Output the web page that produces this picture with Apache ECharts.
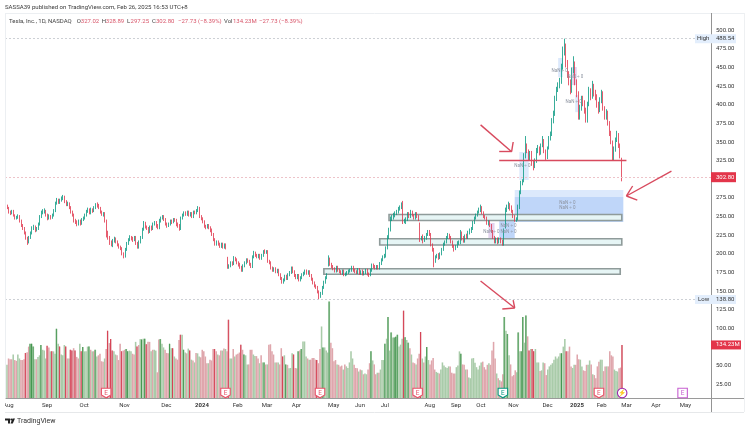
<!DOCTYPE html>
<html><head><meta charset="utf-8">
<style>html,body{margin:0;padding:0;background:#fff}#c{width:749px;height:430px}</style>
<script src="https://cdn.jsdelivr.net/npm/echarts@6/dist/echarts.min.js"></script>
</head><body><div id="c"></div>
<script>
const closes=[265,262,256,255,258,252,248,249,251,244,
238,234,228,221,216,222,228,235,236,232,
234,240,250,255,257,258,252,248,251,249,
252,258,268,272,269,272,274,276,270,267,
268,262,256,252,244,243,240,244,241,246,
248,252,257,260,255,260,258,262,266,265,
262,256,253,254,245,228,222,216,212,218,
220,216,212,209,207,200,197,206,214,219,
222,220,219,222,214,209,216,222,233,241,
236,234,230,236,234,240,242,237,236,244,
248,250,246,240,238,240,244,243,246,245,
240,238,234,248,252,255,253,256,252,254,
250,256,255,258,261,250,247,243,237,236,
238,235,232,226,219,213,216,213,210,213,
209,212,208,183,184,188,187,194,192,188,
186,182,178,184,188,192,190,186,183,196,
201,198,196,198,194,198,203,202,203,190,
188,181,178,180,176,178,172,167,162,165,
170,167,172,175,181,176,171,168,171,165,
168,172,174,177,174,176,171,166,161,157,
155,149,143,147,155,162,168,172,194,186,
183,180,177,182,178,176,174,177,172,173,
175,177,178,182,178,176,175,179,174,177,
173,175,178,173,172,178,185,183,181,183,
181,187,192,196,197,208,222,232,246,248,
251,254,256,260,262,265,243,245,246,253,
250,256,252,248,254,250,246,220,222,218,
221,226,230,226,212,205,190,196,198,195,
200,206,213,216,222,225,222,216,210,207,
210,215,215,228,220,217,224,222,228,230,
234,242,248,252,256,258,262,255,250,248,
241,243,238,230,222,217,219,216,220,217,
213,230,258,262,265,262,257,250,245,247,
262,282,295,296,330,345,338,328,335,322,
318,325,338,342,336,345,352,338,330,342,
355,360,378,388,408,420,425,432,450,470,
479,455,440,430,420,445,455,430,415,385,
395,408,402,392,380,400,418,410,425,415,
410,400,392,405,415,395,385,390,375,362,
350,328,340,352,358,345,330.53,302.8];
const opens=[262,265,262,256,255,258,252,248,249,251,
244,238,234,228,221,216,222,228,235,236,
232,234,240,250,255,257,258,252,248,251,
249,252,258,268,272,269,272,274,276,270,
267,268,262,256,252,244,243,240,244,241,
246,248,252,257,260,255,260,258,262,266,
265,262,256,253,254,243,228,222,216,212,
218,220,216,212,209,207,200,197,206,214,
219,222,220,219,222,214,209,216,222,233,
241,236,234,230,236,234,240,242,237,236,
244,248,250,246,240,238,240,244,243,246,
245,240,238,234,248,252,255,253,256,252,
254,250,256,255,258,261,250,247,243,237,
236,238,235,232,226,219,213,216,213,210,
213,209,212,195,183,184,188,187,194,192,
188,186,182,178,184,188,192,190,186,183,
196,201,198,196,198,194,198,203,202,203,
190,188,181,178,180,176,178,172,167,162,
165,170,167,172,175,181,176,171,168,171,
165,168,172,174,177,174,176,171,166,161,
157,155,149,143,147,155,162,168,186,192,
186,183,180,177,182,178,176,174,177,172,
173,175,177,178,182,178,176,175,179,174,
177,173,175,178,173,172,178,185,183,181,
183,181,187,192,196,197,208,222,232,246,
248,251,254,256,260,262,265,243,243,246,
253,250,256,252,248,254,250,240,220,222,
218,221,226,230,226,212,205,190,196,198,
195,200,206,213,216,222,225,222,216,210,
207,210,215,215,228,220,217,224,222,228,
230,234,242,248,252,256,258,262,255,250,
248,241,243,238,230,222,217,219,216,220,
217,213,236,258,262,265,262,257,250,245,
247,262,282,295,298,330,345,338,328,335,
322,318,325,338,342,336,345,352,338,330,
342,355,360,378,388,408,420,425,432,450,
470,479,455,440,430,420,445,455,430,415,
385,395,408,402,392,380,400,418,410,425,
415,410,400,392,405,415,395,385,390,375,
362,350,328,340,352,358,345,327.02];
const highs=[268,266,263,258,259,259,253,251,253,252,
246,240,236,230,223,224,230,237,239,238,
236,242,252,258,260,261,259,254,253,252,
254,260,270,275,274,274,277,279,278,272,
270,269,264,258,254,247,245,246,246,248,
250,254,259,262,261,262,261,264,268,269,
267,263,258,256,256,246,231,224,218,220,
223,222,218,214,211,209,202,208,216,221,
225,224,223,224,224,216,218,224,235,244,
243,238,236,238,238,242,244,244,240,247,
250,252,252,248,242,242,246,246,248,248,
247,242,240,250,254,257,257,258,258,256,
256,258,258,260,264,263,252,249,245,239,
240,240,237,234,228,221,218,218,215,215,
215,214,214,196,186,190,190,197,196,194,
190,188,184,186,190,194,194,192,188,198,
204,203,200,200,200,200,205,206,205,205,
192,190,183,182,182,180,180,174,169,167,
172,172,174,177,183,183,178,173,173,173,
170,174,176,179,179,178,178,173,168,163,
159,157,151,149,157,164,170,174,198,195,
188,185,182,184,184,180,178,179,179,175,
177,179,180,184,184,180,178,181,181,178,
179,177,180,180,175,180,187,187,185,185,
185,189,194,198,200,210,225,235,250,252,
255,257,259,263,265,269,271,247,249,256,
256,259,258,253,256,256,252,242,224,226,
224,228,232,232,228,214,208,198,200,201,
202,208,215,218,224,228,227,224,218,212,
212,217,218,232,230,224,226,227,231,234,
236,244,250,254,258,262,266,264,257,252,
250,245,245,240,232,224,222,222,222,222,
219,234,262,266,270,268,265,259,252,249,
266,285,298,300,335,358,348,340,338,338,
326,328,342,346,344,348,358,354,340,344,
358,364,382,392,412,424,430,436,455,478,
488.54,482,460,445,434,450,465,458,434,418,
400,412,412,406,396,404,424,422,432,428,
420,414,404,410,420,418,398,394,392,378,
365,352,344,356,365,362,348,328.89];
const lows=[260,260,254,252,253,250,246,246,247,242,
236,232,226,219,212,214,220,226,232,229,
230,232,238,248,253,254,250,245,246,246,
247,250,256,266,267,267,270,272,268,264,
264,260,254,250,242,240,237,238,238,239,
244,246,250,255,253,253,255,256,260,262,
260,254,251,250,242,222,219,212,210,209,
215,214,210,207,205,198,194,195,204,212,
217,218,216,217,212,207,207,214,220,231,
234,232,227,228,231,232,238,235,233,233,
242,246,244,238,235,236,238,240,241,243,
237,235,231,232,246,250,251,251,250,250,
248,248,253,253,256,248,245,241,235,233,
234,233,229,224,217,211,211,211,208,208,
207,207,206,180,180,182,184,185,190,186,
183,180,176,176,182,186,188,184,181,181,
194,196,194,194,192,192,196,200,200,188,
186,179,176,176,174,174,170,165,160,160,
163,165,165,170,173,174,169,166,166,163,
163,166,170,172,172,172,169,164,159,155,
153,147,138.8,141,145,153,160,166,183,184,
181,178,175,175,176,174,172,172,170,170,
171,173,175,176,176,174,173,173,172,172,
171,171,173,171,169,170,176,181,179,179,
179,179,185,190,194,195,206,220,230,244,
246,249,252,254,258,260,240,241,240,244,
248,248,250,246,246,248,244,216,218,214,
216,219,224,224,210,203,182,188,194,192,
193,198,204,211,214,220,220,214,208,203,
205,208,212,213,218,215,215,220,220,226,
228,232,240,246,250,254,256,253,248,246,
239,238,236,228,220,214,214,213,214,214,
211,211,234,256,260,258,255,248,243,243,
245,260,280,292,296,328,335,325,325,318,
312,315,322,335,332,333,343,335,326,327,
340,352,358,375,385,405,417,422,428,447,
466,450,436,426,414,416,442,426,410,380,
380,392,398,388,376,376,398,406,408,411,
406,396,388,390,402,392,380,380,372,358,
347,325,325,337,350,342,328,297.25];
const volumes=[84,100,98,98,110,96,94,110,100,96,
96,98,114,116,130,137,137,130,98,98,
104,108,134,122,120,100,132,128,118,118,
118,112,175,137,130,110,108,134,130,100,
100,122,120,126,120,104,100,137,118,129,
118,118,130,130,122,118,118,122,105,108,
112,93,92,100,124,170,139,149,120,118,
110,108,96,137,118,120,122,124,118,120,
118,112,110,142,130,134,149,148,150,150,
136,142,142,118,122,122,120,65,148,149,
137,128,122,114,113,137,126,126,105,100,
97,147,160,160,122,115,113,125,120,97,
95,90,114,113,105,103,122,118,105,88,
88,97,95,124,124,118,110,108,120,120,
125,124,118,198,100,100,124,105,110,112,
115,135,122,110,108,85,85,122,122,110,
106,106,100,88,108,90,90,85,85,135,
136,118,110,90,90,90,85,126,105,108,
85,84,75,76,113,110,76,75,118,120,
124,143,143,105,100,97,97,101,101,97,
96,88,124,181,128,128,120,115,244,140,
126,93,96,85,84,80,82,72,85,80,
76,90,118,100,84,76,75,67,72,70,
60,62,60,72,88,118,95,85,60,64,
64,72,96,96,137,150,205,120,166,153,
153,155,160,130,135,150,221,154,147,140,
126,110,90,88,85,100,112,167,100,90,
105,129,96,85,95,101,72,66,64,62,
72,90,82,78,76,80,80,64,62,62,
78,82,118,112,85,84,72,72,52,50,
100,101,89,78,72,82,90,92,78,72,
84,88,84,120,142,100,62,50,45,42,
60,205,170,162,108,85,55,58,70,65,
166,118,118,205,140,209,156,120,124,124,
118,124,90,90,68,70,90,88,58,72,
80,84,88,97,105,100,105,113,113,130,
149,118,118,130,80,76,84,84,110,98,
97,80,70,68,84,84,95,85,60,58,
50,80,92,97,97,68,80,80,80,118,
108,105,72,68,67,75,77,134.23];
const emphasizedVolumeBars=[12,15,16,17,22,26,29,32,34,38,41,42,44,48,49,53,57,65,67,68,74,77,78,84,87,89,90,99,105,107,112,114,118,134,143,151,153,166,178,180,185,188,190,200,204,208,
235,244,246,248,250,251,252,256,257,259,267,271,293,321,323,330,332,333,335,337,339,340,358,361,397];
const priceTickLabels=[500,475,450,425,400,375,350,325,275,250,225,200,175,150,125,100,50,25];
const monthLabels=['Aug','Sep','Oct','Nov','Dec','2024','Feb','Mar','Apr','May','Jun','Jul','Aug','Sep','Oct','Nov','Dec','2025','Feb','Mar','Apr','May'];
const monthBars=[1,26,50,76,103,126,149,168,187,211,228,244,273,290,306,327,349,368,384,400,419,438];
const earningsRed=[64,141,202,265,382];
const earningsTeal=[320];
const dividendBar=[397];
const futureEarnings=[436];
const totalBars=455;
const headline='SASSA39 published on TradingView.com, Feb 26, 2025 16:53 UTC+8';
const legendName='Tesla, Inc., 1D, NASDAQ';
const highValue=488.54, lowValue=138.80, lastClose=302.80, lastVolume=134.23;
const lineSegments=[ // [barA,priceA,barB,priceB]
 [318,325.9,400,325.9],
 [306,373,326,337],[326,337,327,350],[326,337,318,337],
 [429,311,400,277.6],[400,277.6,407,272],[400,277.6,404,291],
 [306,163.6,328,127.4],[328,127.4,320,126],[328,127.4,327,138]];
const blueZones=[[328,398,276.3,242.7],[318,328,245.4,218.6]];
const paleZones=[[328,398,285.6,276.3],[331,337,336.6,299],[356,359,462.7,437],[367,369,413,390]];
const purpleZones=[[311,315,241.4,221.3],[365,368,450.6,426.4]];
const boxes=[[247,397,252.8,244.7],[241,397,220.3,211.9],[205,396,180.1,172.6]];
const nanNotes=[[362,269],[362,261],[324,237],[324,230],[313,230],[333,318],[357,446],[367,438],[366,404]];

const cats=[];for(let i=0;i<totalBars;i++){const k=monthBars.indexOf(i);cats.push(k>=0?monthLabels[k]:'');}
const candle=closes.map((c,i)=>[opens[i],c,lows[i],highs[i]]);
const UP='#089981',DOWN='#e0354b',LINE='#d84a5e';
const isUp=i=>closes[i]>=opens[i];
const paleData=volumes.map((v,i)=>({value:v,itemStyle:{color:isUp(i)?'#a9cba9':'#dfa6ac'}}));
const strongData=volumes.map((v,i)=>emphasizedVolumeBars.includes(i)?{value:v,itemStyle:{color:isUp(i)?'#43964f':'#d63f52'}}:'-');
const seg=lineSegments.map(s=>[{coord:[s[0],s[1]],lineStyle:{color:LINE,width:1.4,type:'solid'}},{coord:[s[2],s[3]]}]);
const zone=(a,st)=>a.map(z=>[{coord:[z[0],z[2]],itemStyle:st},{coord:[z[1],z[3]]}]);
const shield='path://M0 0H10V7L5 10L0 7Z';
const icon=(i,col,sym,txt)=>({coord:[i,12.6],symbol:sym,symbolSize:[9.5,9.5],itemStyle:{color:'#fff',borderColor:col,borderWidth:1.1},
 label:{show:true,formatter:txt,color:col,fontSize:6.5,fontFamily:'Roboto',position:'inside'}});
const el=document.getElementById('c');
const chart=echarts.init(el,null,{renderer:'canvas',width:749,height:430});
chart.setOption({animation:false,backgroundColor:'#fff',
 grid:[{left:5,right:38,top:11.5,bottom:27},{left:5,right:38,top:298,bottom:32}],
 xAxis:[{type:'category',gridIndex:0,data:cats,show:false},
  {type:'category',gridIndex:1,data:cats,axisTick:{show:false},axisLine:{lineStyle:{color:'#9a9a9a',width:1}},
   axisLabel:{interval:0,color:'#333',fontSize:6,fontFamily:'Roboto',margin:4,hideOverlap:false,
    formatter:v=>/^20/.test(v)?'{y|'+v+'}':v,rich:{y:{fontWeight:'bold',fontSize:6,color:'#333',fontFamily:'Roboto'}}},splitLine:{show:false}}],
 yAxis:[{type:'value',gridIndex:0,position:'right',min:0,max:525,interval:25,splitLine:{show:false},axisLine:{show:false},axisTick:{show:false},
   axisLabel:{margin:5,fontSize:6,color:'#333',fontFamily:'Roboto',formatter:v=>priceTickLabels.includes(v)?v.toFixed(2):''}},
  {type:'value',gridIndex:1,min:0,max:253,show:false}],
 series:[
  {type:'bar',xAxisIndex:1,yAxisIndex:1,data:paleData,barWidth:1.55,barGap:'-100%',z:1,
   markPoint:{silent:true,animation:false,data:[
    ...earningsRed.map(i=>icon(i,'#e8536a',shield,'E')),
    ...earningsTeal.map(i=>icon(i,'#089981',shield,'E')),
    ...dividendBar.map(i=>icon(i,'#9c27b0','circle','⚡')),
    ...futureEarnings.map(i=>icon(i,'#c65fd0','rect','E'))]}},
  {type:'bar',xAxisIndex:1,yAxisIndex:1,data:strongData,barWidth:1,barGap:'-100%',z:2},
  {type:'candlestick',xAxisIndex:0,yAxisIndex:0,data:candle,barWidth:1.2,z:3,
   itemStyle:{color:UP,color0:DOWN,borderColor:UP,borderColor0:DOWN,borderWidth:1,opacity:0.8},
   markLine:{silent:true,symbol:'none',animation:false,label:{show:false},data:[
    {yAxis:highValue,lineStyle:{color:'#cdd0d5',type:[2,2],width:1}},
    {yAxis:lowValue,lineStyle:{color:'#cdd0d5',type:[2,2],width:1}},
    {yAxis:lastClose,lineStyle:{color:'#edc3c9',type:[2,2],width:1}},
    ...seg]},
   markArea:{silent:true,animation:false,data:[
    ...zone(paleZones,{color:'#dce9fc'}),
    ...zone(blueZones,{color:'#bfd6f9'}),
    ...zone(purpleZones,{color:'#e3d3ee'}),
    ...zone(boxes,{color:'#e6f5f5',borderColor:'#8f9b9a',borderWidth:1.6})]},
   markPoint:{silent:true,animation:false,symbolSize:0,data:nanNotes.map(n=>({coord:n,
     label:{show:true,formatter:'NaN ÷ 0',fontSize:4.5,color:'#8c93a0',fontFamily:'Roboto',position:'inside'}}))}}
 ]});
const pY=v=>chart.convertToPixel({yAxisIndex:0},v);
const vY=v=>chart.convertToPixel({yAxisIndex:1},v);
const txt=(x,y,t,fill,size,extra)=>({type:'text',x,y,z:20,style:Object.assign({text:t,fill,fontSize:size||6,fontFamily:'Roboto',verticalAlign:'middle'},extra||{})});
const rect=(x,y,w,h,fill,z)=>({type:'rect',shape:{x,y,width:w,height:h},z:z||19,style:{fill}});
const ln=(x1,y1,x2,y2,c)=>({type:'line',shape:{x1,y1,x2,y2},z:18,style:{stroke:c,lineWidth:1}});
const yH=pY(highValue),yL=pY(lowValue),yC=pY(lastClose),yV=vY(lastVolume);
const RED='#d8566a',DK='#444';
chart.setOption({graphic:[
 rect(0,398.5,5,13,'#fff',30),
 ln(5,13.5,744,13.5,'#eceff2'),ln(5,412.5,744,412.5,'#e6e8ea'),ln(5.5,13,5.5,398,'#eceff2'),ln(744.5,13,744.5,412,'#eef0f2'),
 ln(711.5,13,711.5,412,'#949494'),ln(711,398.5,744,398.5,'#9a9a9a'),
 txt(5,7,headline,'#3a3a3a',6.05),
 txt(9,21,legendName,DK,6),
 txt(76.7,21,'O',DK),txt(80.8,21,'327.02',RED),
 txt(101.7,21,'H',DK),txt(105.8,21,'328.89',RED),
 txt(127,21,'L',DK),txt(130.6,21,'297.25',RED),
 txt(152,21,'C',DK),txt(156,21,'302.80',RED),
 txt(178,21,'−27.73 (−8.39%)',RED),
 txt(224,21,'Vol',DK),txt(233,21,'134.23M',RED),
 txt(259,21,'−27.73 (−8.39%)',RED),
 rect(695,yH-4.5,41,9,'#e3eefc'),txt(697,yH,'High','#333'),txt(716,yH,'488.54','#333'),
 rect(695,yL-4.5,41,9,'#e3eefc'),txt(698,yL,'Low','#333'),txt(716,yL,'138.80','#333'),
 rect(711,yC-5,25,10,'#e3354a'),txt(716,yC,'302.80','#fff'),
 rect(711,yV-4.5,30,9,'#e3354a'),txt(716,yV,'134.23M','#fff'),
 {type:'polygon',z:20,shape:{points:[[5,418.5],[10,418.5],[10,423.5],[8,423.5],[8,420.5],[5,420.5]]},style:{fill:'#222'}},
 {type:'circle',z:20,shape:{cx:11.3,cy:419.5,r:1},style:{fill:'#222'}},
 {type:'polygon',z:20,shape:{points:[[12.5,418.5],[15,418.5],[12.8,423.5],[10.5,423.5]]},style:{fill:'#222'}},
 txt(17,421,'TradingView','#333',7)
]});
</script></body></html>
